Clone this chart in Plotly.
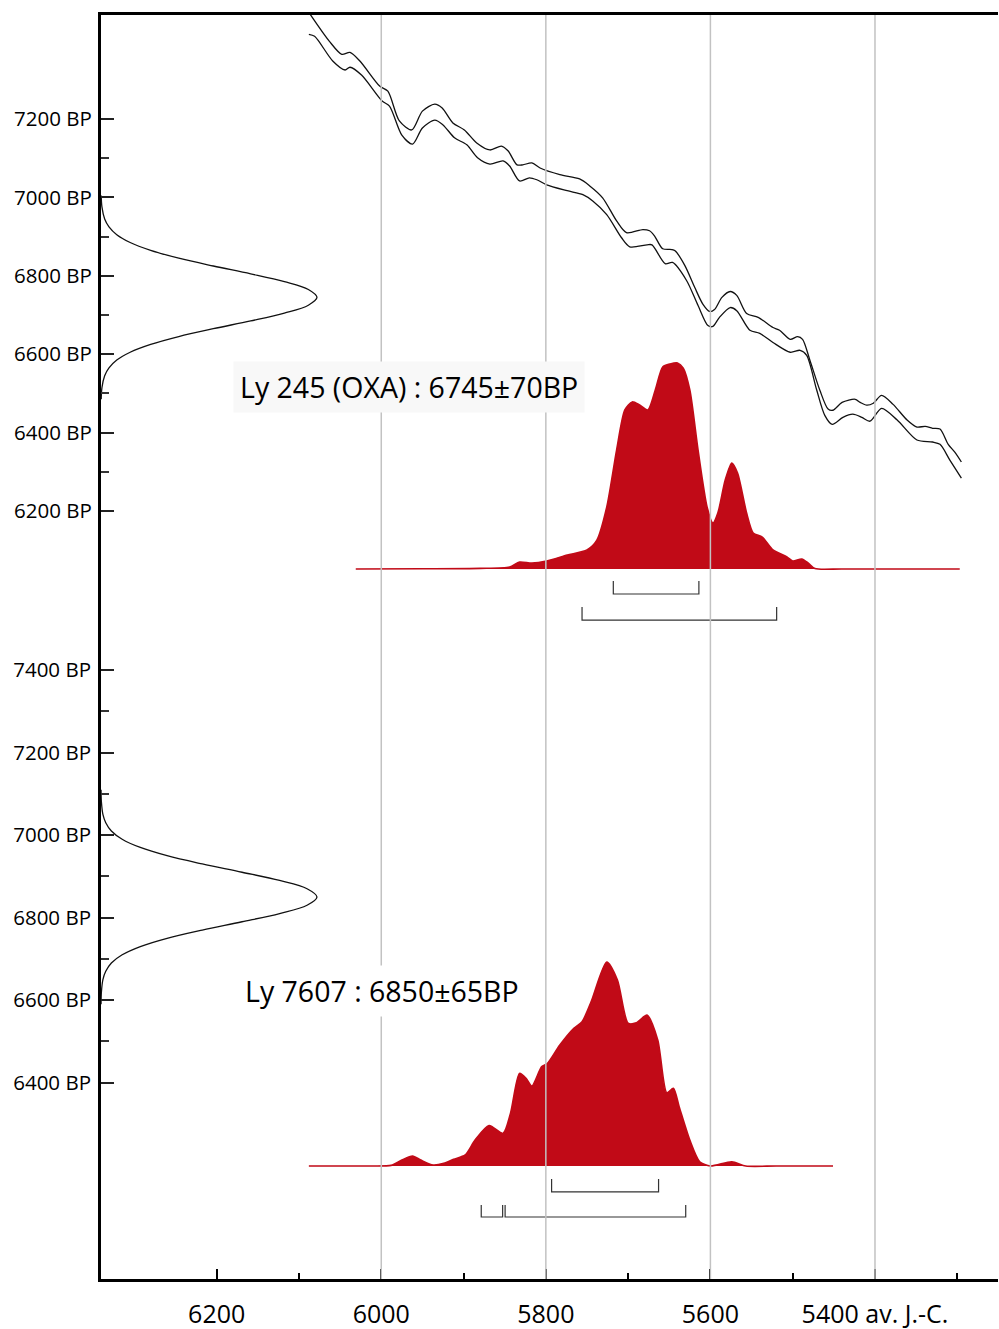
import plotly.graph_objects as go

# ---------------- data ----------------
# calibration curve band (calendar year BC, BP)
CAL_UP_YEARS = [6088, 6063, 6048, 6038, 6026, 6002, 5992, 5978, 5963, 5950, 5935, 5926, 5913, 5899, 5884,
                5868, 5854, 5846, 5835, 5828, 5817, 5807, 5783, 5759, 5747, 5731, 5714, 5702, 5682, 5674,
                5668, 5658, 5647, 5643, 5631, 5619, 5609, 5601, 5595, 5586, 5576, 5568, 5556, 5542, 5524,
                5516, 5503, 5494, 5488, 5479, 5467, 5457, 5451, 5440, 5424, 5418, 5410, 5402, 5392, 5378,
                5361, 5349, 5339, 5330, 5321, 5311, 5303, 5295]
CAL_UP_BP = [7472, 7398, 7365, 7370, 7348, 7284, 7271, 7195, 7172, 7220, 7238, 7228, 7190, 7172, 7139,
             7121, 7131, 7119, 7083, 7083, 7088, 7075, 7058, 7047, 7030, 6999, 6940, 6910, 6918, 6915,
             6902, 6869, 6867, 6864, 6826, 6770, 6727, 6709, 6714, 6745, 6760, 6750, 6704, 6694, 6668,
             6661, 6638, 6645, 6638, 6584, 6508, 6460, 6457, 6477, 6485, 6477, 6470, 6475, 6495, 6472,
             6432, 6414, 6416, 6411, 6409, 6370, 6350, 6325]
CAL_LO_YEARS = [6088, 6081, 6059, 6044, 6038, 6024, 5999, 5990, 5975, 5962, 5950, 5935, 5925, 5911, 5896,
                5883, 5868, 5852, 5844, 5832, 5820, 5811, 5799, 5774, 5755, 5743, 5726, 5708, 5698, 5677,
                5671, 5655, 5646, 5629, 5615, 5603, 5597, 5589, 5576, 5568, 5552, 5540, 5524, 5503, 5491,
                5483, 5471, 5461, 5452, 5439, 5427, 5416, 5406, 5392, 5373, 5349, 5330, 5321, 5309, 5295]
CAL_LO_BP = [7416, 7411, 7348, 7325, 7332, 7312, 7246, 7233, 7159, 7136, 7177, 7197, 7185, 7152, 7134,
             7101, 7085, 7093, 7080, 7042, 7050, 7045, 7032, 7017, 7007, 6991, 6956, 6897, 6874, 6879,
             6879, 6831, 6834, 6788, 6724, 6673, 6671, 6694, 6719, 6711, 6661, 6653, 6630, 6605, 6610,
             6597, 6510, 6444, 6421, 6439, 6447, 6439, 6429, 6462, 6432, 6381, 6376, 6370, 6330, 6284]

# Ly 245 (OXA): measured date distribution (BP, relative density)
GAUSS_A_BP = [7005, 6975, 6945, 6925, 6905, 6885, 6865, 6845, 6825, 6805, 6785, 6765, 6745,
              6725, 6705, 6685, 6665, 6645, 6625, 6605, 6585, 6565, 6545, 6515, 6485]
GAUSS_A_D = [0.001, 0.0045, 0.017, 0.037, 0.073, 0.135, 0.230, 0.360, 0.520, 0.693, 0.849, 0.960, 1.0,
             0.960, 0.849, 0.693, 0.520, 0.360, 0.230, 0.135, 0.073, 0.037, 0.017, 0.0045, 0.001]
# Ly 7607
GAUSS_B_BP = [7110, 7080, 7050, 7030, 7010, 6990, 6970, 6950, 6930, 6910, 6890, 6870, 6850,
              6830, 6810, 6790, 6770, 6750, 6730, 6710, 6690, 6670, 6650, 6620, 6590]
GAUSS_B_D = [0.0003, 0.0019, 0.0088, 0.022, 0.048, 0.098, 0.182, 0.306, 0.469, 0.653, 0.827, 0.954, 1.0,
             0.954, 0.827, 0.653, 0.469, 0.306, 0.182, 0.098, 0.048, 0.022, 0.0088, 0.0019, 0.0003]

# calibrated distributions (year BC, relative probability)
CALIB_A_YEARS = [6031, 5950, 5880, 5844, 5832, 5817, 5799, 5774, 5750, 5738, 5726, 5714, 5704, 5695, 5686,
                 5676, 5667, 5658, 5649, 5640, 5633, 5625, 5615, 5604, 5597, 5591, 5582, 5574, 5567,
                 5556, 5548, 5537, 5524, 5507, 5500, 5489, 5481, 5473, 5440, 5297]
CALIB_A_P = [0, 0.001, 0.003, 0.01, 0.034, 0.029, 0.039, 0.068, 0.093, 0.141, 0.302, 0.580, 0.776, 0.815,
             0.800, 0.776, 0.873, 0.985, 1.0, 1.005, 0.98, 0.873, 0.580, 0.302, 0.224, 0.273, 0.434, 0.517,
             0.468, 0.273, 0.176, 0.156, 0.093, 0.059, 0.039, 0.049, 0.029, 0.002, 0, 0]
CALIB_B_YEARS = [6088, 6020, 5988, 5975, 5962, 5952, 5937, 5924, 5912, 5898, 5886, 5869, 5852, 5843, 5832,
                 5824, 5817, 5805, 5798, 5783, 5766, 5756, 5745, 5726, 5713, 5700, 5690, 5677, 5664,
                 5653, 5645, 5638, 5625, 5613, 5600, 5574, 5557, 5520, 5451]
CALIB_B_P = [0, 0, 0.003, 0.029, 0.049, 0.029, 0.005, 0.013, 0.033, 0.054, 0.127, 0.198, 0.160, 0.258,
             0.454, 0.430, 0.392, 0.487, 0.503, 0.593, 0.675, 0.707, 0.805, 1.0, 0.912, 0.700, 0.702,
             0.740, 0.618, 0.359, 0.381, 0.291, 0.127, 0.021, 0, 0.021, 0, 0, 0]

# 1-sigma / 2-sigma ranges (year BC)
SIG1_A = [(5718, 5614)]
SIG2_A = [(5756, 5519.5)]
SIG1_B = [(5793, 5663)]
SIG2_B = [(5878.5, 5852.5), (5849.5, 5630)]

LABEL_A = "Ly 245 (OXA) : 6745±70BP"
LABEL_B = "Ly 7607 : 6850±65BP"

X_TICKS = [6200, 6000, 5800, 5600, 5400]
X_TICKTEXT = ["6200", "6000", "5800", "5600", "5400 av. J.-C."]
X_MINOR = [6100, 5900, 5700, 5500, 5300]
GRID_YEARS = [6000, 5800, 5600, 5400]
YA_TICKS = [7200, 7000, 6800, 6600, 6400, 6200]
YA_MINOR = [7100, 6900, 6700, 6500, 6300]
YB_TICKS = [7400, 7200, 7000, 6800, 6600, 6400]
YB_MINOR = [7300, 7100, 6900, 6700, 6500]

RED = "#c10a17"
FONT = "Open Sans"

fig = go.Figure()

# calibrated distributions
fig.add_trace(go.Scatter(x=CALIB_A_YEARS, y=CALIB_A_P, xaxis="x", yaxis="y3", mode="lines",
                         line=dict(color=RED, width=1.6, shape="spline", smoothing=0.7),
                         fill="tozeroy", fillcolor=RED, hoverinfo="skip"))
fig.add_trace(go.Scatter(x=CALIB_B_YEARS, y=CALIB_B_P, xaxis="x", yaxis="y4", mode="lines",
                         line=dict(color=RED, width=1.6, shape="spline", smoothing=0.7),
                         fill="tozeroy", fillcolor=RED, hoverinfo="skip"))

# calibration curve
for xs, ys in [(CAL_UP_YEARS, CAL_UP_BP), (CAL_LO_YEARS, CAL_LO_BP)]:
    fig.add_trace(go.Scatter(x=xs, y=ys, xaxis="x", yaxis="y", mode="lines",
                             line=dict(color="#111", width=1.3, shape="spline", smoothing=0.8),
                             hoverinfo="skip"))

# measured BP distributions
fig.add_trace(go.Scatter(x=GAUSS_A_D, y=GAUSS_A_BP, xaxis="x2", yaxis="y", mode="lines",
                         line=dict(color="#111", width=1.3, shape="spline", smoothing=1.0),
                         hoverinfo="skip"))
fig.add_trace(go.Scatter(x=GAUSS_B_D, y=GAUSS_B_BP, xaxis="x2", yaxis="y2", mode="lines",
                         line=dict(color="#111", width=1.3, shape="spline", smoothing=1.0),
                         hoverinfo="skip"))


# brackets for sigma ranges
def bracket(ranges, yax, y_top, y_bar):
    xs, ys = [], []
    for a, b in ranges:
        xs += [a, a, b, b, None]
        ys += [y_top, y_bar, y_bar, y_top, None]
    fig.add_trace(go.Scatter(x=xs, y=ys, xaxis="x", yaxis=yax, mode="lines",
                             line=dict(color="#333", width=1.2), hoverinfo="skip"))


bracket(SIG1_A, "y3", -0.059, -0.122)
bracket(SIG2_A, "y3", -0.185, -0.249)
bracket(SIG1_B, "y4", -0.064, -0.127)
bracket(SIG2_B, "y4", -0.191, -0.250)

tickfont_y = dict(family=FONT, size=20.5, color="black")

fig.update_layout(
    width=999, height=1329,
    margin=dict(l=101, r=1, t=15, b=50, pad=0),
    paper_bgcolor="white", plot_bgcolor="white",
    showlegend=False,
    xaxis=dict(range=[6340.6, 5250.5], tickmode="array", tickvals=X_TICKS, ticktext=X_TICKTEXT,
               ticks="inside", ticklen=10, tickwidth=1.5, tickcolor="black",
               minor=dict(tickmode="array", tickvals=X_MINOR, ticks="inside", ticklen=6,
                          tickwidth=1.5, tickcolor="black", showgrid=False),
               showline=True, linecolor="black", linewidth=3, mirror=True, automargin=False,
               showgrid=False, zeroline=False, ticklabelstandoff=11,
               tickfont=dict(family=FONT, size=25, color="black")),
    xaxis2=dict(overlaying="x", range=[0, 4.153], visible=False),
    yaxis=dict(range=[4240.8, 7465.3], tickmode="array", tickvals=YA_TICKS,
               ticktext=[f"{v} BP" for v in YA_TICKS],
               ticks="inside", ticklen=13, tickwidth=1.5, tickcolor="#222",
               minor=dict(tickmode="array", tickvals=YA_MINOR, ticks="inside", ticklen=8,
                          tickwidth=1.5, tickcolor="#333", showgrid=False),
               showline=True, linecolor="black", linewidth=3, automargin=False,
               showgrid=False, zeroline=False, ticklabelstandoff=2, tickfont=tickfont_y),
    yaxis2=dict(overlaying="y", anchor="x", side="left", range=[5924.4, 8987.1],
                tickmode="array", tickvals=YB_TICKS, ticktext=[f"{v} BP" for v in YB_TICKS],
                ticks="inside", ticklen=13, tickwidth=1.5, tickcolor="#222",
                minor=dict(tickmode="array", tickvals=YB_MINOR, ticks="inside", ticklen=8,
                           tickwidth=1.5, tickcolor="#333", showgrid=False),
                showline=False, showgrid=False, zeroline=False, ticklabelstandoff=9,
                automargin=False, tickfont=tickfont_y),
    yaxis3=dict(overlaying="y", range=[-3.4634, 2.7024], visible=False),
    yaxis4=dict(overlaying="y", range=[-0.5539, 5.6422], visible=False),
    shapes=[dict(type="line", xref="x", yref="paper", x0=v, x1=v, y0=0, y1=1,
                 line=dict(color="#c2c2c2", width=1.5), layer="above") for v in GRID_YEARS],
    annotations=[
        dict(text=LABEL_A, xref="x", yref="y", x=6180, y=6517.6, xanchor="left", yanchor="middle",
             showarrow=False, font=dict(family=FONT, size=28.5, color="black"),
             bgcolor="#f8f8f8", borderpad=6),
        dict(text=LABEL_B, xref="x", yref="y2", x=6174, y=6622, xanchor="left", yanchor="middle",
             showarrow=False, font=dict(family=FONT, size=28.5, color="black"),
             bgcolor="white", borderpad=6),
    ],
)

fig.write_html("out.html", config={"displayModeBar": False},
               post_script="document.body.style.margin='0';document.body.style.overflow='hidden';")
